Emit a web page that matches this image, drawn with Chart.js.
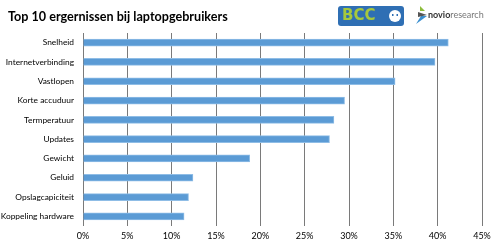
<!DOCTYPE html>
<html>
<head>
<meta charset="utf-8">
<script src="https://cdn.jsdelivr.net/npm/chart.js@4/dist/chart.umd.min.js"></script>
<style>
  html, body { margin: 0; padding: 0; background: #fff; }
  #wrap { width: 500px; height: 245px; }
</style>
</head>
<body>
<div id="wrap"><canvas id="chart" width="500" height="245"></canvas></div>
<script>
const categories = ['Snelheid', 'Internetverbinding', 'Vastlopen', 'Korte accuduur', 'Termperatuur',
    'Updates', 'Gewicht', 'Geluid', 'Opslagcapiciteit', 'Koppeling hardware'];
const percentages = [41.2, 39.7, 35.2, 29.5, 28.3, 27.8, 18.8, 12.4, 11.9, 11.4];
const tickValues = [0, 5, 10, 15, 20, 25, 30, 35, 40, 45];
const titleText = 'Top 10 ergernissen bij laptopgebruikers';

const FONT = 'Lato, "Open Sans", sans-serif';

// title and the two logos in the top band
const headerPlugin = {
    id: 'header',
    afterDraw(chart) {
        const c = chart.ctx;
        c.save();
        c.fillStyle = '#000';
        c.font = 'bold 12.6px ' + FONT;
        c.textBaseline = 'middle';
        c.fillText(titleText, 8, 17);

        // BCC badge
        c.fillStyle = '#2f6fb4';
        c.beginPath();
        c.roundRect(338, 6, 66, 20, 3);
        c.fill();
        c.fillStyle = '#a6c83c';
        c.font = 'bold 15px "DejaVu Sans", sans-serif';
        c.fillText('BCC', 342, 16.5);
        c.fillStyle = '#fff';
        c.beginPath();
        c.arc(395, 16, 6, 0, Math.PI * 2);
        c.fill();
        c.fillStyle = '#2f6fb4';
        c.fillRect(392, 14, 1.5, 2);
        c.fillRect(396.5, 14, 1.5, 2);

        // novioresearch mark
        c.fillStyle = '#8dbd3c';
        c.beginPath();
        c.moveTo(420, 6); c.lineTo(425, 11); c.lineTo(420, 11); c.closePath();
        c.fill();
        c.fillStyle = '#3a8fd0';
        c.beginPath();
        c.moveTo(416, 24); c.lineTo(427, 16); c.lineTo(421, 16); c.closePath();
        c.fill();
        c.fillStyle = '#555';
        c.beginPath();
        c.moveTo(418, 12); c.lineTo(427, 15); c.lineTo(418, 17); c.closePath();
        c.fill();
        c.font = 'bold 9px ' + FONT;
        c.fillStyle = '#333';
        c.fillText('novio', 428, 15);
        const w = c.measureText('novio').width;
        c.font = '9px ' + FONT;
        c.fillStyle = '#777';
        c.fillText('research', 428 + w, 15);
        c.restore();
    }
};

new Chart(document.getElementById('chart').getContext('2d'), {
    type: 'bar',
    data: {
        labels: categories,
        datasets: [{
            data: percentages,
            backgroundColor: '#5b9bd5',
            borderColor: '#8fbde6',
            borderWidth: { top: 1, bottom: 1, right: 1, left: 0 },
            barThickness: 7
        }]
    },
    options: {
        indexAxis: 'y',
        responsive: false,
        animation: false,
        layout: { padding: { top: 33, right: 18, bottom: 0, left: 0 } },
        plugins: {
            legend: { display: false },
            tooltip: { enabled: false }
        },
        scales: {
            x: {
                min: 0,
                max: 45,
                afterBuildTicks: (axis) => { axis.ticks = tickValues.map(v => ({ value: v })); },
                afterFit: (axis) => { axis.height = 19; },
                grid: { color: '#7a7a7a', lineWidth: 1, drawTicks: false },
                border: { display: false },
                ticks: {
                    padding: 5,
                    color: '#000',
                    font: { family: FONT, size: 9 },
                    callback: (v) => v + '%'
                }
            },
            y: {
                afterFit: (axis) => { axis.width = 83; },
                grid: { display: false, drawTicks: false },
                border: { display: false },
                ticks: {
                    padding: 9,
                    color: '#000',
                    font: { family: FONT, size: 8.4 }
                }
            }
        }
    },
    plugins: [headerPlugin]
});
</script>
</body>
</html>
